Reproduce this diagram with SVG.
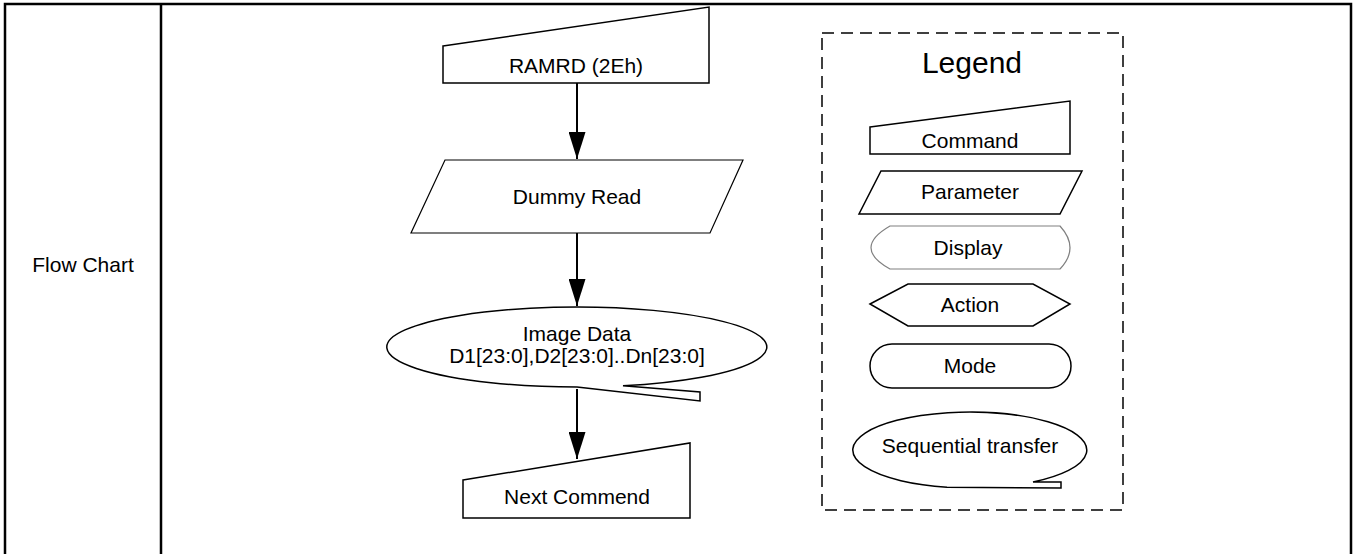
<svg xmlns="http://www.w3.org/2000/svg" width="1358" height="554" viewBox="0 0 1358 554">
<defs>
<style>
text{font-family:"Liberation Sans",Arial,sans-serif;font-size:21px;fill:#000;text-anchor:middle}
.shape{fill:#fff;stroke:#000;stroke-width:1.5}
.thin{fill:#fff;stroke:#000;stroke-width:1.2}
.grey{fill:#fff;stroke:#808080;stroke-width:1.2}
.conn{stroke:#000;stroke-width:2;fill:none}
</style>
<marker id="arr" markerUnits="userSpaceOnUse" markerWidth="27" markerHeight="17" refX="27" refY="8.5" viewBox="0 0 27 17" orient="auto">
<path d="M0,0 L27,8.5 L0,17 Z" fill="#000"/>
</marker>
</defs>
<rect width="1358" height="554" fill="#fff"/>
<g id="table" fill="none" stroke="#000" stroke-width="2.5">
<path d="M5,560 V4 H1351 V560"/>
<line x1="161" y1="4" x2="161" y2="560"/>
</g>
<g id="label-flowchart"><text x="83" y="272">Flow Chart</text></g>

<g id="connectors">
<line class="conn" x1="577" y1="83" x2="577" y2="159" marker-end="url(#arr)"/>
<line class="conn" x1="577" y1="233" x2="577" y2="306" marker-end="url(#arr)"/>
<line class="conn" x1="577" y1="389" x2="577" y2="459" marker-end="url(#arr)"/>
</g>

<g id="node-ramrd">
<path class="shape" d="M443,46 L709,7 L709,83 L443,83 Z"/>
<text x="576" y="73">RAMRD (2Eh)</text>
</g>
<g id="node-dummy">
<path class="thin" d="M445,160 L743,160 L710,233 L411,233 Z"/>
<text x="577" y="204">Dummy Read</text>
</g>
<g id="node-image">
<path class="shape" d="M623,385.8 A190,40 0 1 0 577,387 L700,401 L700,392 Z"/>
<text x="577" y="341">Image Data</text>
<text x="577" y="363">D1[23:0],D2[23:0]..Dn[23:0]</text>
</g>
<g id="node-next">
<path class="shape" d="M463,480 L690,443 L690,518 L463,518 Z"/>
<text x="577" y="504">Next Commend</text>
</g>

<g id="legend">
<rect x="822" y="33" width="301" height="477" fill="none" stroke="#000" stroke-width="1.5" stroke-dasharray="12,7"/>
<text x="972" y="73" style="font-size:30px">Legend</text>
</g>
<g id="legend-command">
<path class="shape" d="M870,127 L1070,101 L1070,154 L870,154 Z"/>
<text x="970" y="148">Command</text>
</g>
<g id="legend-parameter">
<path class="shape" d="M881,171 L1082,171 L1060,214 L859,214 Z"/>
<text x="970" y="199">Parameter</text>
</g>
<g id="legend-display">
<path class="grey" d="M890,226 L1060,226 Q1080,248 1060,269 L890,269 Q852,248 890,226 Z"/>
<text x="968" y="255">Display</text>
</g>
<g id="legend-action">
<path class="shape" d="M870,304 L908,284 L1033,284 L1070,304 L1033,326 L908,326 Z"/>
<text x="970" y="312">Action</text>
</g>
<g id="legend-mode">
<rect class="shape" x="870" y="344" width="201" height="44" rx="22" ry="22"/>
<text x="970" y="373">Mode</text>
</g>
<g id="legend-seq">
<path class="shape" d="M1033,482 A117,38 0 1 0 947,487.3 L1061,488 L1061,482 Z"/>
<text x="970" y="453">Sequential transfer</text>
</g>
</svg>
